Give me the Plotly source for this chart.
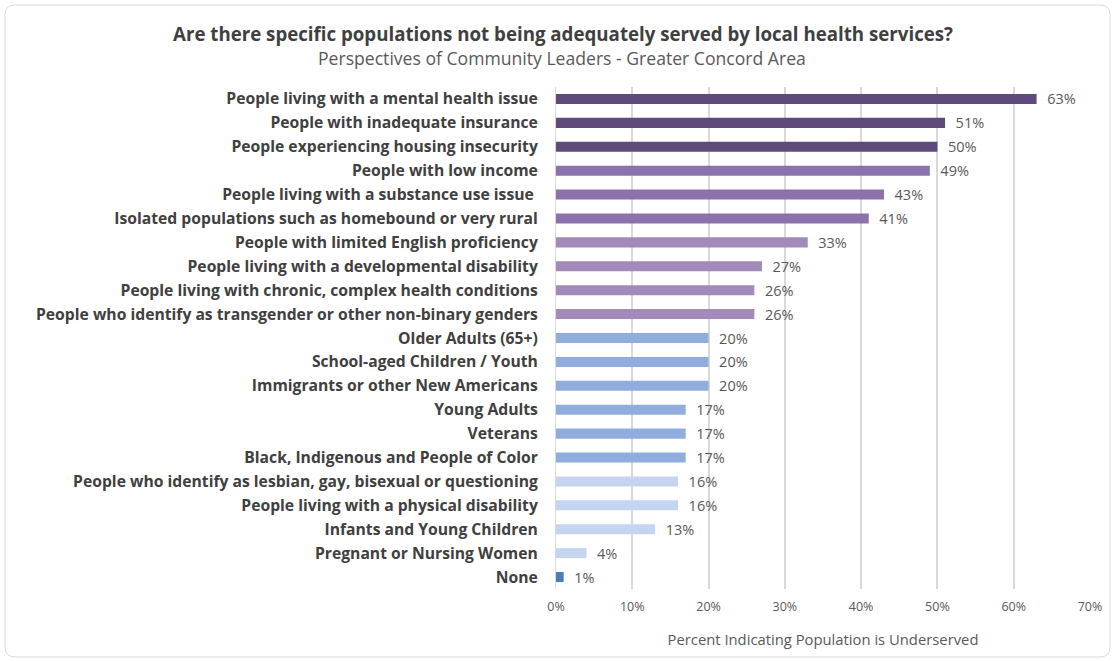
import plotly.graph_objects as go

# Survey responses, listed top to bottom
populations = [
    "People living with a mental health issue",
    "People with inadequate insurance",
    "People experiencing housing insecurity",
    "People with low income",
    "People living with a substance use issue ",
    "Isolated populations such as homebound or very rural",
    "People with limited English proficiency",
    "People living with a developmental disability",
    "People living with chronic, complex health conditions",
    "People who identify as transgender or other non-binary genders",
    "Older Adults (65+)",
    "School-aged Children / Youth",
    "Immigrants or other New Americans",
    "Young Adults",
    "Veterans",
    "Black, Indigenous and People of Color",
    "People who identify as lesbian, gay, bisexual or questioning",
    "People living with a physical disability",
    "Infants and Young Children",
    "Pregnant or Nursing Women",
    "None",
]
percent_underserved = [63, 51, 50, 49, 43, 41, 33, 27, 26, 26,
                       20, 20, 20, 17, 17, 17, 16, 16, 13, 4, 1]
tick_values = [0, 10, 20, 30, 40, 50, 60, 70]
tick_labels = ["0%", "10%", "20%", "30%", "40%", "50%", "60%", "70%"]

# Colour tiers for bar groups
bar_colors = (["#5F4B7B"] * 3 + ["#8B72AC"] * 3 + ["#A28BBA"] * 4 +
              ["#91ADDE"] * 6 + ["#C6D5EF"] * 4 + ["#4A7EBB"])

FONT = "Open Sans"
W, H = 1115, 661
ML, MR, MT, MB = 556, 25, 87, 72

fig = go.Figure(go.Bar(
    x=percent_underserved,
    y=populations,
    orientation="h",
    marker=dict(color=bar_colors, line=dict(width=0)),
    text=[f"  {v}%" for v in percent_underserved],
    textposition="outside",
    constraintext="none",
    textfont=dict(family=FONT, size=14.5, color="#595959"),
    cliponaxis=False,
    width=0.42,
))

# rounded outer frame, expressed in paper coordinates
pw, ph = W - ML - MR, H - MT - MB
def px(x):
    return (x - ML) / pw
def py(y):
    return (H - MB - y) / ph
x0, x1, y0, y1, r = 5, 1110, 5, 657, 10
frame = (f"M {px(x0 + r)},{py(y0)} L {px(x1 - r)},{py(y0)} "
         f"Q {px(x1)},{py(y0)} {px(x1)},{py(y0 + r)} "
         f"L {px(x1)},{py(y1 - r)} Q {px(x1)},{py(y1)} {px(x1 - r)},{py(y1)} "
         f"L {px(x0 + r)},{py(y1)} Q {px(x0)},{py(y1)} {px(x0)},{py(y1 - r)} "
         f"L {px(x0)},{py(y0 + r)} Q {px(x0)},{py(y0)} {px(x0 + r)},{py(y0)} Z")

fig.update_layout(
    width=W, height=H,
    margin=dict(l=ML, r=MR, t=MT, b=MB),
    paper_bgcolor="white", plot_bgcolor="white",
    showlegend=False,
    font=dict(family=FONT, color="#404040"),
    shapes=[dict(type="path", xref="paper", yref="paper", path=frame,
                 line=dict(color="#D9D9D9", width=1), layer="below")],
    annotations=[
        dict(text="<b>Are there specific populations not being adequately served by local health services?</b>",
             xref="paper", yref="paper", x=px(563), y=py(33), xanchor="center", yanchor="middle",
             showarrow=False, font=dict(family=FONT, size=18.7, color="#404040")),
        dict(text="Perspectives of Community Leaders - Greater Concord Area",
             xref="paper", yref="paper", x=px(562), y=py(58), xanchor="center", yanchor="middle",
             showarrow=False, font=dict(family=FONT, size=17.6, color="#595959")),
    ],
    xaxis=dict(
        range=[0, 70], tickvals=tick_values, ticktext=tick_labels,
        showgrid=True, gridcolor="#D9D9D9", gridwidth=1.5,
        zeroline=False, showline=False, ticks="",
        ticklabelstandoff=8,
        tickfont=dict(family=FONT, size=12.5, color="#595959"),
        title=dict(text="Percent Indicating Population is Underserved",
                   font=dict(family=FONT, size=14.8, color="#595959"), standoff=21),
    ),
    yaxis=dict(
        autorange="reversed", showgrid=False, zeroline=False,
        showline=True, linecolor="#D9D9D9", linewidth=1, ticks="",
        ticklabelstandoff=14,
        tickfont=dict(family=FONT, size=15.7, color="#404040", weight="bold"),
    ),
    bargap=0.58,
)

fig.write_html("out.html")
